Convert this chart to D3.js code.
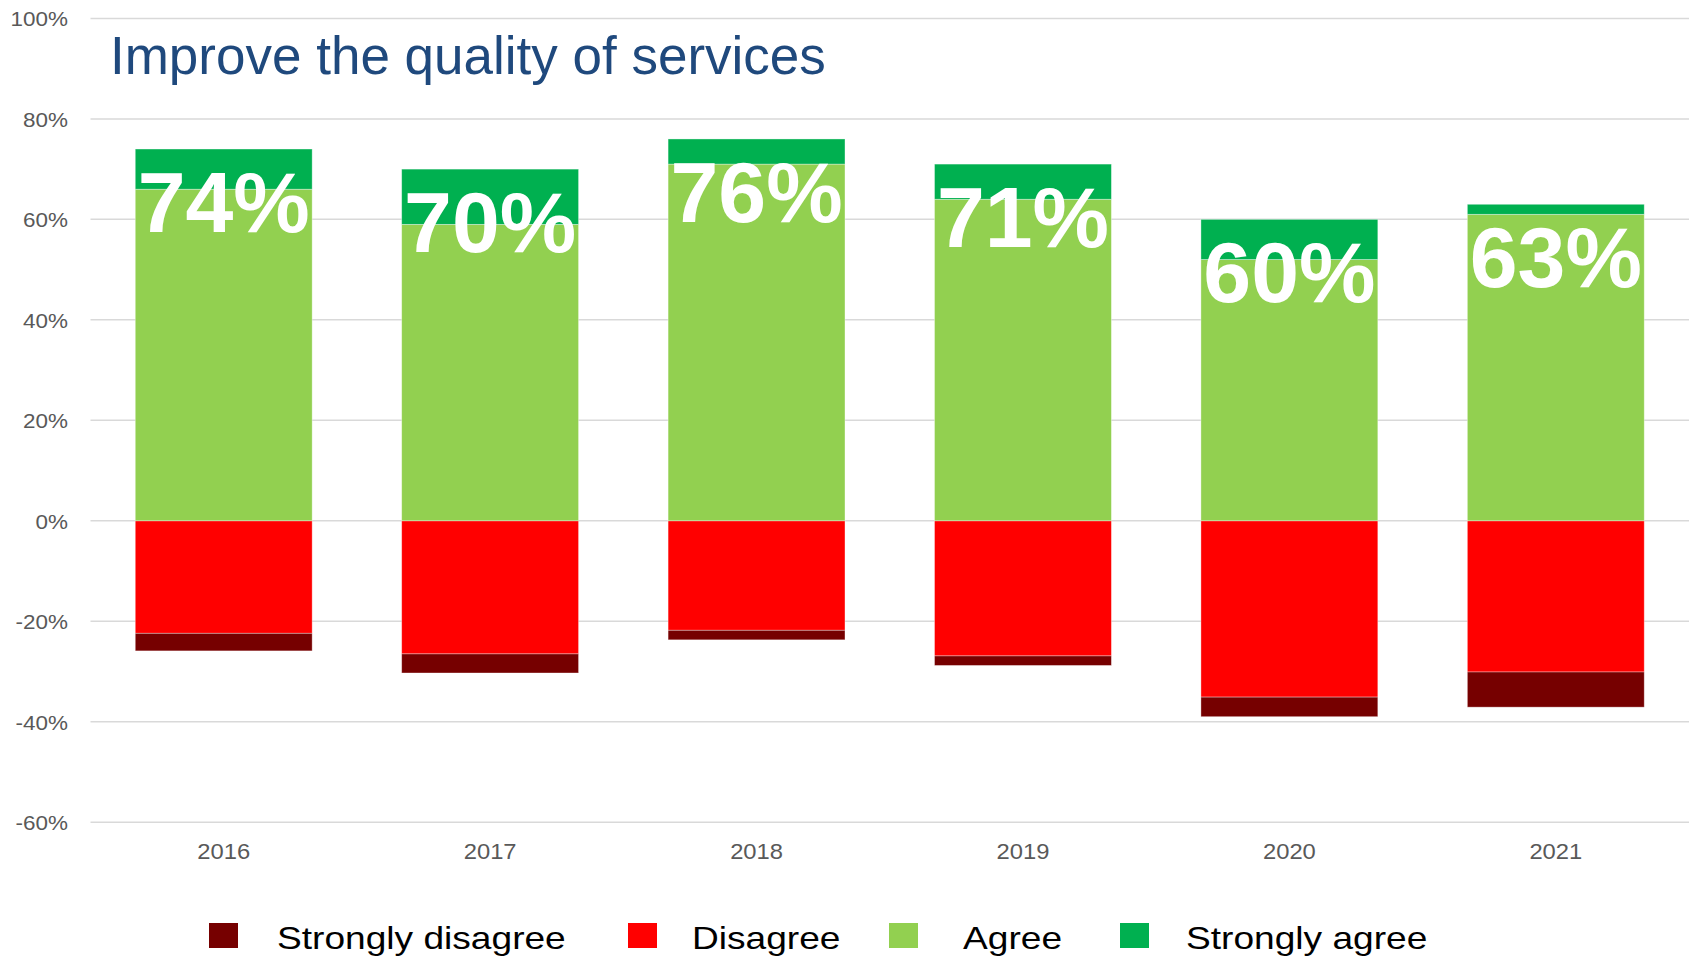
<!DOCTYPE html>
<html>
<head>
<meta charset="utf-8">
<script src="https://cdn.jsdelivr.net/npm/d3@7"></script>
<style>
  html, body { margin: 0; padding: 0; background: #fff; }
  svg { display: block; font-family: "Liberation Sans", Arial, sans-serif; }
</style>
</head>
<body>
<svg id="chart" width="1694" height="960"></svg>
<script>
// Survey answers per year, in percent
const years = ["2016", "2017", "2018", "2019", "2020", "2021"];
const stronglyDisagree = [3.5, 3.8, 1.9, 1.9, 3.9, 7.0];
const disagree = [22.4, 26.5, 21.8, 26.9, 35.1, 30.1];
const agree = [66, 59, 71, 64, 52, 61];
const stronglyAgree = [8, 11, 5, 7, 8, 2];

const yTicks = [-60, -40, -20, 0, 20, 40, 60, 80, 100];
const titleText = "Improve the quality of services";
const legendLabels = ["Strongly disagree", "Disagree", "Agree", "Strongly agree"];
const colors = {
  "Strongly disagree": "#760000",
  "Disagree": "#FF0000",
  "Agree": "#92D050",
  "Strongly agree": "#00B050"
};

// Rows for the diverging stack: disagreement goes below zero
const rows = years.map((year, i) => ({
  year,
  "Disagree": -disagree[i],
  "Strongly disagree": -stronglyDisagree[i],
  "Agree": agree[i],
  "Strongly agree": stronglyAgree[i]
}));
const stackKeys = ["Disagree", "Strongly disagree", "Agree", "Strongly agree"];
const series = d3.stack().keys(stackKeys).offset(d3.stackOffsetDiverging)(rows);

const svg = d3.select("#chart");

const x = d3.scaleBand()
  .domain(years)
  .range([90.5, 1689])
  .paddingInner(0.336)
  .paddingOuter(0.168);

const y = d3.scaleLinear()
  .domain([-60, 100])
  .range([822.2, 18.4]);

// Gridlines
svg.append("g")
  .selectAll("line")
  .data(yTicks)
  .join("line")
  .attr("x1", 90.5)
  .attr("x2", 1689)
  .attr("y1", d => y(d))
  .attr("y2", d => y(d))
  .attr("stroke", "#D9D9D9")
  .attr("stroke-width", 1.5);

// Y axis labels
const yAxis = svg.append("g")
  .attr("transform", "translate(68,0)")
  .call(d3.axisLeft(y).tickValues(yTicks).tickFormat(d => d + "%").tickSize(0).tickPadding(0));
yAxis.select(".domain").remove();
yAxis.selectAll("text")
  .attr("font-family", "Liberation Sans, Arial, sans-serif")
  .attr("font-size", 21)
  .attr("fill", "#595959")
  .attr("dy", "0.36em")
  .attr("transform", "scale(1.07,1)");

// X axis labels
const xAxis = svg.append("g")
  .attr("transform", "translate(0,843)")
  .call(d3.axisBottom(x).tickSize(0).tickPadding(0));
xAxis.select(".domain").remove();
xAxis.selectAll("text")
  .attr("font-family", "Liberation Sans, Arial, sans-serif")
  .attr("font-size", 22)
  .attr("fill", "#595959")
  .attr("dy", "0.71em")
  .attr("transform", "scale(1.08,1)");

// Stacked bars
svg.append("g")
  .selectAll("g")
  .data(series)
  .join("g")
  .attr("fill", s => colors[s.key])
  .selectAll("rect")
  .data(s => s)
  .join("rect")
  .attr("x", d => x(d.data.year))
  .attr("width", x.bandwidth())
  .attr("y", d => y(Math.max(d[0], d[1])))
  .attr("height", d => Math.abs(y(d[0]) - y(d[1])))
  .attr("stroke", "#ffffff")
  .attr("stroke-opacity", 0.45)
  .attr("stroke-width", 0.8);

// Total agreement labels inside the top of each bar
svg.append("g")
  .selectAll("text")
  .data(years.map((year, i) => ({ year, total: agree[i] + stronglyAgree[i] })))
  .join("text")
  .attr("x", d => x(d.year) + x.bandwidth() / 2)
  .attr("y", d => y(d.total) + 83)
  .attr("text-anchor", "middle")
  .attr("font-family", "Liberation Sans, Arial, sans-serif")
  .attr("font-weight", "bold")
  .attr("font-size", 86)
  .attr("fill", "#ffffff")
  .text(d => d.total + "%");

// Title
svg.append("text")
  .attr("x", 110)
  .attr("y", 74)
  .attr("font-family", "Liberation Sans, Arial, sans-serif")
  .attr("font-size", 53)
  .attr("fill", "#1F497D")
  .text(titleText);

// Legend
const legendMarkerX = [209, 628, 889, 1120];
const legendTextX = [277, 692, 963, 1186];
const legend = svg.append("g");
legendLabels.forEach((label, i) => {
  legend.append("rect")
    .attr("x", legendMarkerX[i])
    .attr("y", 923)
    .attr("width", 29)
    .attr("height", 25)
    .attr("fill", colors[label]);
  legend.append("text")
    .attr("transform", `translate(${legendTextX[i]},948.5) scale(1.16,1)`)
    .attr("font-family", "Liberation Sans, Arial, sans-serif")
    .attr("font-size", 32)
    .attr("fill", "#000000")
    .text(label);
});
</script>
</body>
</html>
